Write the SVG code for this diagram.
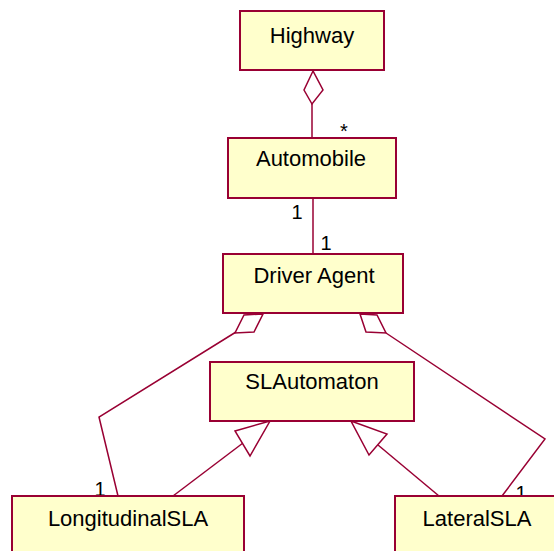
<svg xmlns="http://www.w3.org/2000/svg" width="554" height="551" viewBox="0 0 554 551">
<style>
.box{fill:#ffffcc;stroke:#990033;stroke-width:2}
.ln{fill:none;stroke:#990033;stroke-width:1.5}
.hd{fill:#ffffff;stroke:#990033;stroke-width:1.5}
.t{font-family:"Liberation Sans",Arial,sans-serif;font-size:22px;fill:#000;text-anchor:middle}
.m{font-family:"Liberation Sans",Arial,sans-serif;font-size:20px;fill:#000;text-anchor:middle}
</style>
<rect width="554" height="551" fill="#ffffff"/>
<g id="connectors">
<line class="ln" x1="312" y1="103" x2="312" y2="138"/>
<polygon class="hd" points="313,71 304,90 312,104 323,90"/>
<line class="ln" x1="313" y1="198" x2="313" y2="254"/>
<polyline class="ln" points="236,332 99,417 118,496"/>
<polygon class="hd" points="263,314 244,315 235,333 254,332"/>
<polyline class="ln" points="386,333 545,439 502,496"/>
<polygon class="hd" points="360,314 377,315 386,333 366,332"/>
<line class="ln" x1="243" y1="443" x2="173" y2="496"/>
<polygon class="hd" points="270,421 235,431 250,456"/>
<line class="ln" x1="378" y1="445" x2="439" y2="496"/>
<polygon class="hd" points="351,421 387,434 369,455"/>
</g>
<g id="labels">
<text class="m" x="344" y="138">*</text>
<text class="m" x="297" y="219">1</text>
<text class="m" x="326" y="250">1</text>
<text class="m" x="100" y="496">1</text>
<text class="m" x="521" y="500">1</text>
</g>
<g id="Highway"><rect class="box" x="240" y="11" width="144" height="59"/><text class="t" x="312" y="43">Highway</text></g>
<g id="Automobile"><rect class="box" x="228" y="138" width="168" height="60"/><text class="t" x="311" y="166">Automobile</text></g>
<g id="DriverAgent"><rect class="box" x="223" y="254" width="180" height="59"/><text class="t" x="314" y="283">Driver Agent</text></g>
<g id="SLAutomaton"><rect class="box" x="210" y="362" width="204" height="59"/><text class="t" x="312" y="389">SLAutomaton</text></g>
<g id="LongitudinalSLA"><rect class="box" x="12" y="496" width="232" height="70"/><text class="t" x="128" y="526">LongitudinalSLA</text></g>
<g id="LateralSLA"><rect class="box" x="395" y="496" width="170" height="70"/><text class="t" x="477" y="526">LateralSLA</text></g>
</svg>
